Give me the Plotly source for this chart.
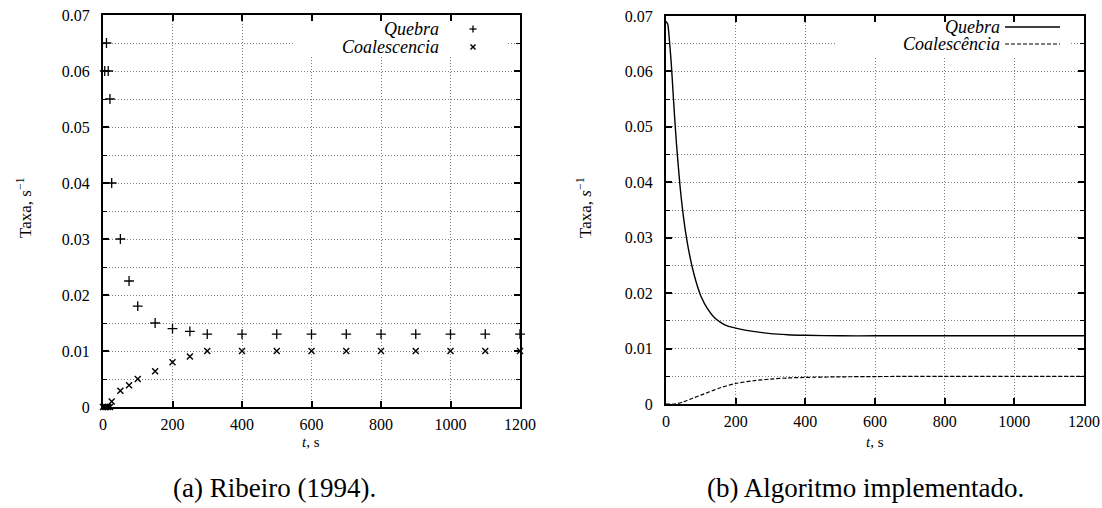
import plotly.graph_objects as go

# ---------------- data ----------------
# (a) Ribeiro (1994) - scattered points
t_rib_quebra = [5, 10, 15, 20, 25, 50, 75, 100, 150, 200, 250, 300,
                400, 500, 600, 700, 800, 900, 1000, 1100, 1200]
taxa_rib_quebra = [0.060, 0.065, 0.060, 0.055, 0.040, 0.030, 0.0225, 0.018, 0.015, 0.014, 0.0135, 0.013,
                   0.013, 0.013, 0.013, 0.013, 0.013, 0.013, 0.013, 0.013, 0.013]
t_rib_coal = [0, 5, 10, 15, 20, 25, 50, 75, 100, 150, 200, 250, 300,
              400, 500, 600, 700, 800, 900, 1000, 1100, 1200]
taxa_rib_coal = [0.0, 0.0, 0.0, 0.0, 0.0, 0.001, 0.0029, 0.0039, 0.005, 0.0064, 0.008, 0.009, 0.010,
                 0.010, 0.010, 0.010, 0.010, 0.010, 0.010, 0.010, 0.010, 0.010]

# (b) Algoritmo implementado - curves
t_alg_quebra = [0, 5, 10, 15, 20, 25, 30, 40, 50, 60, 70, 80, 90, 100, 120, 140, 160, 180, 200,
                250, 300, 350, 400, 500, 600, 800, 1000, 1200]
taxa_alg_quebra = [0.0690, 0.0685, 0.0655, 0.0615, 0.0565, 0.0515, 0.0470, 0.0395, 0.0338, 0.0295,
                   0.0262, 0.0235, 0.0213, 0.0195, 0.0171, 0.0155, 0.0146, 0.0140, 0.0137,
                   0.0131, 0.0127, 0.0125, 0.0124, 0.0123, 0.0123, 0.0123, 0.0123, 0.0123]
t_alg_coal = [0, 20, 30, 50, 75, 100, 125, 150, 175, 200, 250, 300, 350, 400, 500, 600, 800, 1000, 1200]
taxa_alg_coal = [0.0, 0.0, 0.00005, 0.0004, 0.0010, 0.0016, 0.0022, 0.0028, 0.0033, 0.0037,
                 0.0042, 0.0045, 0.0047, 0.0048, 0.0049, 0.00495, 0.0050, 0.0050, 0.0050]

x_ticks = [0, 200, 400, 600, 800, 1000, 1200]
x_tick_text = ["0", "200", "400", "600", "800", "1000", "1200"]
y_ticks = [0, 0.01, 0.02, 0.03, 0.04, 0.05, 0.06, 0.07]
y_tick_text = ["0", "0.01", "0.02", "0.03", "0.04", "0.05", "0.06", "0.07"]

# ---------------- layout helpers ----------------
W, H = 1102, 508
def px(x):
    return x / W
def py(y):
    return 1 - y / H

L = dict(x0=103, x1=520, top=15, bot=407)
R = dict(x0=666, x1=1084, top=16, bot=404)

FONT = "'Liberation Serif', 'DejaVu Serif', serif"
GRID = "#808080"

def xaxis(dom):
    return dict(domain=[px(dom["x0"]), px(dom["x1"])], range=[0, 1200], automargin=False,
                tickvals=x_ticks, ticktext=x_tick_text,
                showline=True, linecolor="black", linewidth=2, mirror="ticks",
                ticks="inside", tickcolor="black", tickwidth=1.5, ticklen=6,
                showgrid=True, gridcolor=GRID, gridwidth=1, griddash="1px,2px",
                zeroline=False, ticklabelstandoff=2,
                tickfont=dict(family=FONT, size=16, color="black"))

def yaxis(dom, anchor):
    return dict(domain=[py(dom["bot"]), py(dom["top"])], range=[0, 0.07], anchor=anchor,
                automargin=False, tickvals=y_ticks, ticktext=y_tick_text,
                showline=True, linecolor="black", linewidth=2, mirror="ticks",
                ticks="inside", tickcolor="black", tickwidth=1.5, ticklen=6,
                showgrid=True, gridcolor=GRID, gridwidth=1, griddash="1px,2px",
                zeroline=False, ticklabelstandoff=8,
                minor=dict(dtick=0.005, tick0=0, ticks="inside", ticklen=4, tickwidth=1.2,
                           tickcolor="black", showgrid=True, gridcolor=GRID,
                           gridwidth=1, griddash="1px,2px"),
                tickfont=dict(family=FONT, size=16, color="black"))

fig = go.Figure()

# left: points
fig.add_trace(go.Scatter(x=t_rib_quebra, y=taxa_rib_quebra, mode="markers", xaxis="x", yaxis="y",
                         marker=dict(symbol="cross-thin", size=7, line=dict(color="black", width=1.3)),
                         cliponaxis=False, name="Quebra"))
fig.add_trace(go.Scatter(x=t_rib_coal, y=taxa_rib_coal, mode="markers", xaxis="x", yaxis="y",
                         marker=dict(symbol="x-thin", size=6, line=dict(color="black", width=1.4)),
                         cliponaxis=False, name="Coalescencia"))
# right: curves
fig.add_trace(go.Scatter(x=t_alg_quebra, y=taxa_alg_quebra, mode="lines", xaxis="x2", yaxis="y2",
                         line=dict(color="black", width=1.4, shape="spline", smoothing=0.6),
                         name="Quebra"))
fig.add_trace(go.Scatter(x=t_alg_coal, y=taxa_alg_coal, mode="lines", xaxis="x2", yaxis="y2",
                         line=dict(color="black", width=1.2, dash="4px,2px", shape="spline", smoothing=0.6),
                         name="Coalescência"))

fig.update_layout(
    width=W, height=H, margin=dict(l=0, r=0, t=0, b=0, autoexpand=False),
    paper_bgcolor="white", plot_bgcolor="white", showlegend=False,
    xaxis=dict(xaxis(L), anchor="y"),
    yaxis=yaxis(L, "x"),
    xaxis2=dict(xaxis(R), anchor="y2"),
    yaxis2=yaxis(R, "x2"),
)

# white legend boxes hiding the grid
fig.add_shape(type="rect", xref="x", yref="y", x0=550, x1=1165, y0=0.0625, y1=0.07,
              fillcolor="white", line=dict(width=0), layer="between")
fig.add_shape(type="rect", xref="x2", yref="y2", x0=488, x1=1157, y0=0.0626, y1=0.07,
              fillcolor="white", line=dict(width=0), layer="between")

ann = []
def text(x, y, s, size, xanchor="center", angle=0):
    ann.append(dict(x=px(x), y=py(y), xref="paper", yref="paper", text=s, showarrow=False,
                    xanchor=xanchor, yanchor="middle", textangle=angle,
                    font=dict(family=FONT, size=size, color="black")))

# legend texts
text(441, 29, "<i>Quebra</i>", 18, "right")
text(441, 47, "<i>Coalescencia</i>", 18, "right")
text(1002, 27, "<i>Quebra</i>", 18, "right")
text(1002, 44, "<i>Coalescência</i>", 18, "right")

# legend symbols
def seg(x0, y0, x1, y1, w=1.3, dash=None):
    fig.add_shape(type="line", xref="paper", yref="paper", x0=px(x0), y0=py(y0), x1=px(x1), y1=py(y1),
                  line=dict(color="black", width=w, dash=dash))
seg(469.5, 29, 476.5, 29); seg(473, 25.5, 473, 32.5)
seg(470.5, 44.5, 475.5, 49.5, 1.4); seg(470.5, 49.5, 475.5, 44.5, 1.4)
seg(1005, 27, 1060, 27, 1.4)
seg(1005, 44, 1060, 44, 1.2, "4px,2px")

# axis titles
text(24, 208, "Taxa, s<sup>−1</sup>", 17, angle=-90)
text(584, 208, "Taxa, <i>s</i><sup>−1</sup>", 17, angle=-90)
text(311, 442, "<i>t</i>, s", 15)
text(875, 442, "<i>t</i>, s", 15)

# captions
text(274, 488, "(a) Ribeiro (1994).", 27)
text(865, 488, "(b) Algoritmo implementado.", 27)

fig.update_layout(annotations=ann)
fig.write_html("out.html")
